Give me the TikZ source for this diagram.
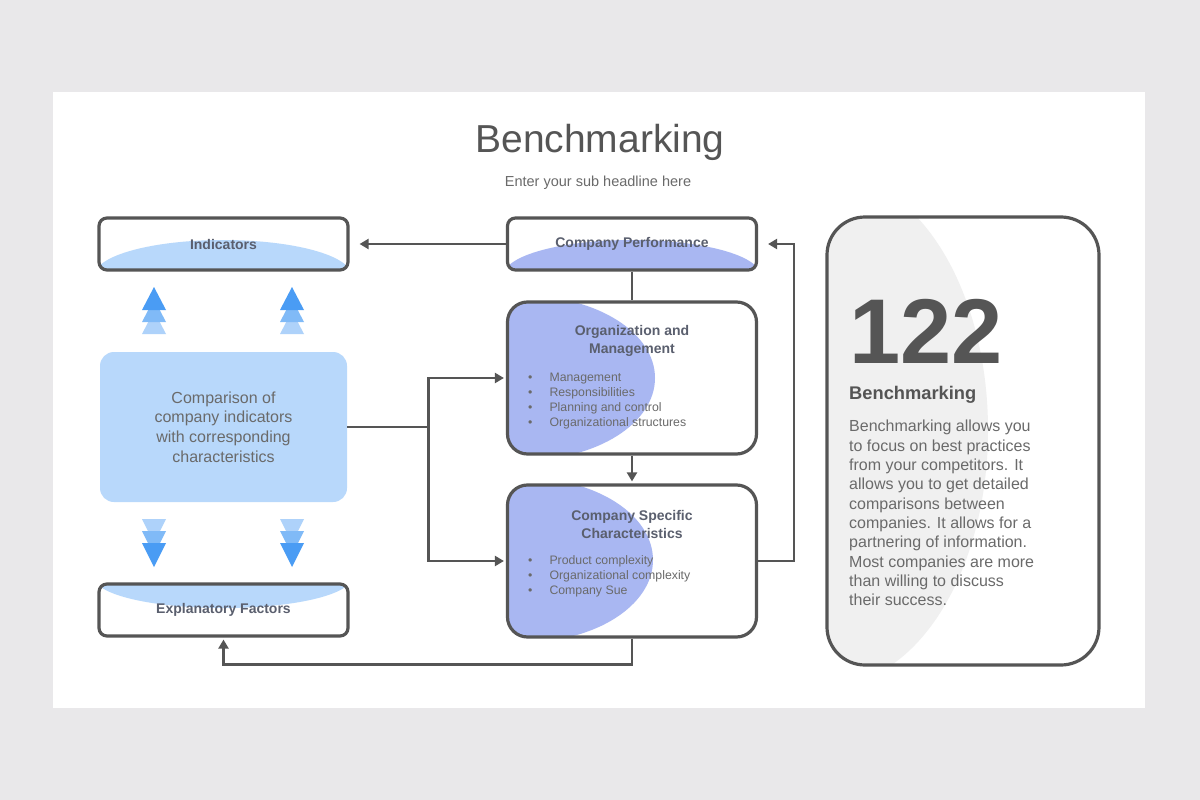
\documentclass[tikz,border=0pt]{standalone}
\usepackage{fontspec}
\setmainfont{Liberation Sans}
\usetikzlibrary{arrows.meta}

\definecolor{pagegray}{HTML}{E9E8EA}
\definecolor{linegray}{HTML}{555555}
\definecolor{textgray}{HTML}{6A6A6A}
\definecolor{labelgray}{HTML}{5A5F6E}
\definecolor{skyblue}{HTML}{B8D8FB}
\definecolor{periwinkle}{HTML}{A9B7F2}
\definecolor{arrowblue}{HTML}{4A9CF4}
\definecolor{cardgray}{HTML}{F0F0F0}

\tikzset{
  box/.style={draw=linegray, line width=3.2pt, rounded corners=8pt,
    minimum width=249pt, minimum height=52pt, inner sep=0pt,
    font=\fontsize{14}{18}\selectfont\bfseries, text=labelgray, align=center},
  bigbox/.style={box, rounded corners=20pt, minimum height=152pt},
  conn/.style={draw=linegray, line width=2.6pt},
  bullets/.style={anchor=north west, inner sep=0pt, text=textgray,
    font=\fontsize{12.3}{15}\selectfont},
  >={Triangle[length=9pt,width=10pt]},
}

\begin{document}
\begin{tikzpicture}[x=1pt,y=-1pt]

\fill[pagegray] (0,0) rectangle (1200,800);
\useasboundingbox (0,0) rectangle (1200,800);
\fill[white] (53,92) rectangle (1145,708);

\node (title) at (600,142) [text=linegray, font=\fontsize{39}{44}\selectfont] {Benchmarking};
\node (sub) at (598,183) [text=textgray, font=\fontsize{14.5}{17}\selectfont] {Enter your sub headline here};

% blobs behind the boxes
\begin{scope}
\clip[rounded corners=8pt] (99,218) rectangle (348,270);
\fill[skyblue] (223,275) ellipse [x radius=128pt, y radius=35pt];
\end{scope}
\begin{scope}
\clip[rounded corners=8pt] (508,218) rectangle (756,270);
\fill[periwinkle] (632,275) ellipse [x radius=128pt, y radius=35pt];
\end{scope}
\begin{scope}
\clip[rounded corners=8pt] (99,584) rectangle (348,636);
\fill[skyblue] (223,578) ellipse [x radius=128pt, y radius=30pt];
\end{scope}
\begin{scope}
\clip[rounded corners=20pt] (508,302) rectangle (756,454);
\fill[periwinkle] (525,378) ellipse [x radius=130pt, y radius=82pt];
\end{scope}
\begin{scope}
\clip[rounded corners=20pt] (508,485) rectangle (756,637);
\fill[periwinkle] (525,560) ellipse [x radius=128pt, y radius=82pt];
\end{scope}
\begin{scope}
\clip[rounded corners=38pt] (827,217) rectangle (1099,665);
\fill[cardgray] (830,430) ellipse [x radius=158pt, y radius=255pt];
\end{scope}

\node (ind) at (223.5,244) [box] {Indicators};
\node (cp) at (632,244) [box] {Company Performance};
\node (expl) at (223.5,610) [box] {Explanatory Factors};
\node (org) at (632,378) [bigbox] {};
\node (csc) at (632,561) [bigbox] {};

\node (cmp) at (223.5,427) [fill=skyblue, rounded corners=14pt, minimum width=247pt,
  minimum height=150pt, text=textgray, align=center,
  font=\fontsize{16}{19.7}\selectfont] {Comparison of\\company indicators\\with corresponding\\characteristics};

\node (orgt) at (632,341) [text=labelgray, align=center, font=\fontsize{14}{18}\selectfont\bfseries] {Organization and\\Management};
\node (orgl) at (528,371) [bullets] {\begin{tabular}{@{}l@{\hspace{17pt}}l@{}}
\textbullet & Management\\ \textbullet & Responsibilities\\
\textbullet & Planning and control\\ \textbullet & Organizational structures
\end{tabular}};

\node (csct) at (632,524) [text=labelgray, align=center, font=\fontsize{14}{18}\selectfont\bfseries] {Company Specific\\Characteristics};
\node (cscl) at (528,554) [bullets] {\begin{tabular}{@{}l@{\hspace{17pt}}l@{}}
\textbullet & Product complexity\\ \textbullet & Organizational complexity\\
\textbullet & Company Sue
\end{tabular}};

% connectors
\draw[conn] (cmp.east) -- ++(81,0) coordinate (split);
\draw[conn,->,shorten >=10pt] (cp.west) -- (ind.east);
\draw[conn] (cp.south) -- (org.north);
\draw[conn,->,shorten >=2pt] (org.south) -- (csc.north);
\draw[conn,->,shorten >=10pt] (csc.east) -- ++(36,0) |- (cp.east);
\draw[conn,->,shorten >=2pt] (csc.south) -- ++(0,26) -| (expl.south);
\draw[conn,->,shorten >=2pt] (split) |- (org.west);
\draw[conn,->,shorten >=2pt] (split) |- (csc.west);

% stacked triangles
\foreach \x in {154,292} {
  \fill[arrowblue!45] (\x-12,334) -- (\x,311) -- (\x+12,334) -- cycle;
  \fill[arrowblue!70] (\x-12,322) -- (\x,299) -- (\x+12,322) -- cycle;
  \fill[arrowblue] (\x-12,310) -- (\x,287) -- (\x+12,310) -- cycle;
  \fill[arrowblue!45] (\x-12,519) -- (\x,543) -- (\x+12,519) -- cycle;
  \fill[arrowblue!70] (\x-12,531) -- (\x,555) -- (\x+12,531) -- cycle;
  \fill[arrowblue] (\x-12,543) -- (\x,567) -- (\x+12,543) -- cycle;
}

% side card
\node (card) at (963,441) [draw=linegray, line width=3.2pt, rounded corners=38pt,
  minimum width=272pt, minimum height=448pt] {};
\node (num) at (849,363) [anchor=base west, inner sep=0pt, text=linegray,
  font=\fontsize{92}{92}\selectfont\bfseries] {122};
\node (cardt) at (849,399) [anchor=base west, inner sep=0pt, text=linegray,
  font=\fontsize{18.3}{22}\selectfont\bfseries] {Benchmarking};
\node (cardp) at (849,420) [anchor=north west, inner sep=0pt, text=textgray, align=left,
  font=\fontsize{16}{19.35}\selectfont] {Benchmarking allows you\\to focus on best practices\\from your competitors. It\\allows you to get detailed\\comparisons between\\companies. It allows for a\\partnering of information.\\Most companies are more\\than willing to discuss\\their success.};

\end{tikzpicture}
\end{document}
